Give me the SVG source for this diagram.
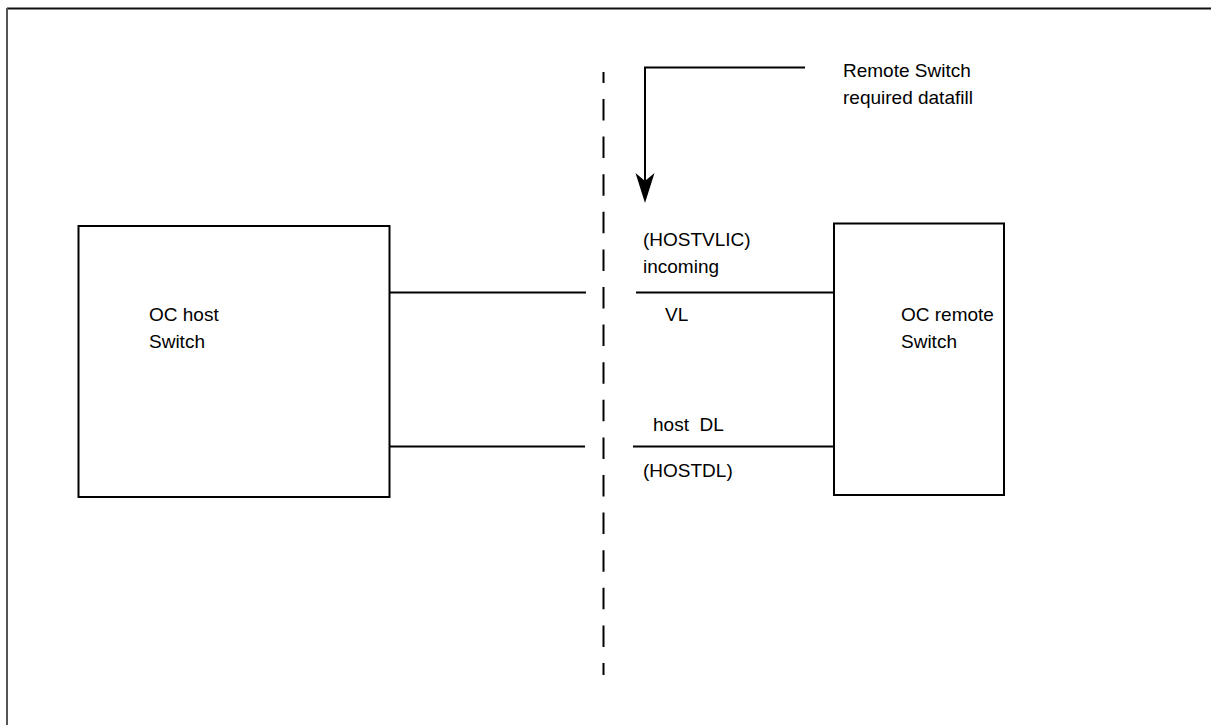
<svg xmlns="http://www.w3.org/2000/svg" width="1211" height="725" viewBox="0 0 1211 725">
<style>
  .ln{stroke:#000;stroke-width:2;fill:none}
  .box{stroke:#000;stroke-width:2;fill:#fff}
  .t{font-family:"Liberation Sans",Arial,sans-serif;font-size:19px;fill:#000}
</style>
<rect width="1211" height="725" fill="#fff"/>
<g id="frame">
  <line x1="7" y1="8.5" x2="1211" y2="8.5" stroke="#111" stroke-width="2"/>
  <line x1="7" y1="8" x2="7" y2="725" stroke="#555" stroke-width="2"/>
</g>
<g id="connectors">
  <line class="ln" x1="603.5" y1="72" x2="603.5" y2="675" stroke-dasharray="21.5 16.1" stroke-dashoffset="10.6"/>
  <line class="ln" x1="389" y1="292.5" x2="586" y2="292.5"/>
  <line class="ln" x1="385" y1="446.5" x2="585" y2="446.5"/>
  <line class="ln" x1="636" y1="292.5" x2="834" y2="292.5"/>
  <line class="ln" x1="633" y1="446.5" x2="834" y2="446.5"/>
  <polyline class="ln" points="805,67.5 645,67.5 645,182"/>
  <polygon points="645,203 635.5,173 645,181 654.5,173" fill="#000"/>
</g>
<g id="host">
  <rect class="box" x="78.5" y="226" width="311" height="271"/>
  <text class="t" x="149" y="321">OC host</text>
  <text class="t" x="149" y="348">Switch</text>
</g>
<g id="remote">
  <rect class="box" x="834" y="223.5" width="170" height="271.5"/>
  <text class="t" x="901" y="321">OC remote</text>
  <text class="t" x="901" y="348">Switch</text>
</g>
<g id="labels">
  <text class="t" x="843" y="77">Remote Switch</text>
  <text class="t" x="843" y="104">required datafill</text>
  <text class="t" x="643" y="246">(HOSTVLIC)</text>
  <text class="t" x="643" y="273">incoming</text>
  <text class="t" x="665" y="321">VL</text>
  <text class="t" x="653" y="431" xml:space="preserve">host  DL</text>
  <text class="t" x="643" y="477">(HOSTDL)</text>
</g>
</svg>
